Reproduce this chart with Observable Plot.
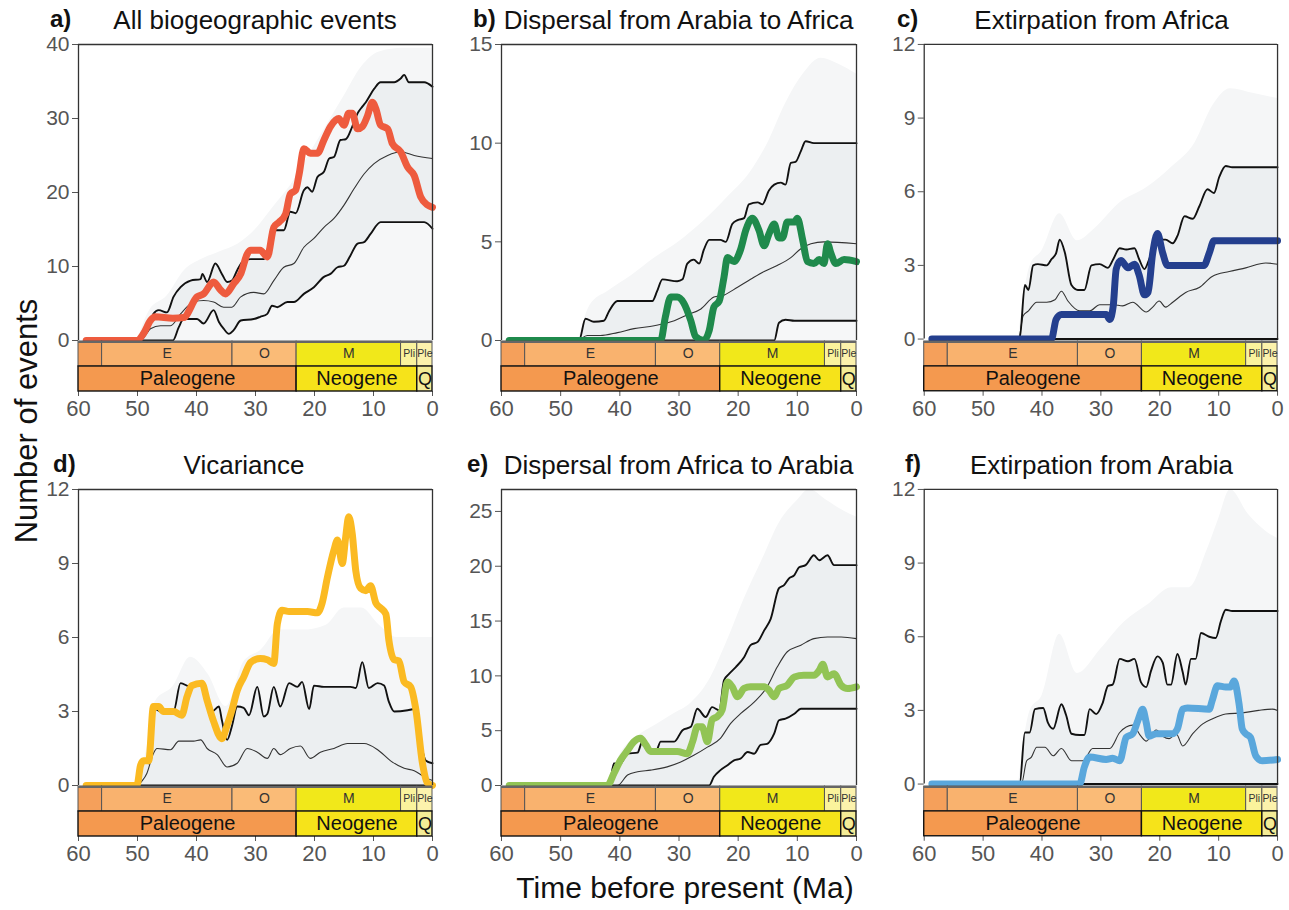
<!DOCTYPE html>
<html><head><meta charset="utf-8">
<script src="https://cdn.jsdelivr.net/npm/d3@7"></script>
<script src="https://cdn.jsdelivr.net/npm/@observablehq/plot@0.6"></script>
<style>
body{margin:0;background:#fff;font-family:"Liberation Sans",Arial,Helvetica,sans-serif;}
#page{position:relative;width:1289px;height:910px;overflow:hidden;background:#fff;}
.box{position:absolute;}
.title{position:absolute;font-size:26px;line-height:26px;color:#111;white-space:nowrap;transform:translateX(-50%);}
.letter{position:absolute;font-size:24px;line-height:26px;font-weight:bold;color:#111;}
.ylab{position:absolute;font-size:31px;color:#111;white-space:nowrap;transform:translate(-50%,-50%) rotate(-90deg);}
.xlab{position:absolute;font-size:30px;color:#111;white-space:nowrap;transform:translate(-50%,-50%);}
</style></head><body><div id="page"></div>
<script>
// ---------- Geological time scale ----------
const epochNames  = ["", "E", "O", "M", "Pli", "Ple"];
const epochBounds = [60, 56, 33.9, 23.03, 5.33, 2.58, 0];
const periodNames  = ["Paleogene", "Neogene", "Q"];
const periodBounds = [60, 23.03, 2.58, 0];
const xTicks = [60, 50, 40, 30, 20, 10, 0];

// ---------- a) All biogeographic events ----------  [time (Ma), events]
const aObs = [[58.7,0],[50.1,0],[49,0.9],[47.8,2.7],[47,3.2],[44,3],[42.2,3.1],[39.9,5.9],[38.8,6.3],[37.1,7.9],[35.9,6.8],[35.1,6.3],[33.7,7.7],[32.5,9.0],[31.4,11.7],[30.8,12.2],[29.2,12.2],[28,11.3],[26.9,15.3],[26,16],[24.9,17.1],[24.1,19.8],[23.2,20.3],[22.6,22.5],[21.8,25.9],[20.7,25.3],[19.5,25.3],[18.4,27.1],[17.3,28.9],[16.4,29.8],[15.9,30],[15,29.1],[14.2,30.7],[13.6,30.7],[12.7,28.6],[11.9,28.9],[11,30.4],[10.2,32.2],[9.6,31.3],[8.8,29.1],[7.6,28.6],[6.8,26.6],[5.4,25.5],[4.2,23.4],[3.1,22.3],[2,19.4],[0.85,18.3],[0,18]];
const aUpper = [[58.7,0],[50,0],[49.2,1.1],[48.4,1.1],[47.3,3.6],[46.4,4.1],[45,3.8],[43.9,5.9],[42.7,7.2],[41,8.1],[39.3,8.3],[39,9.0],[38.2,7.9],[36.8,10.4],[35.7,9.0],[34.8,7.9],[34,8.1],[33.1,9.5],[32,10.8],[30.8,11],[28.6,11],[27.5,13.5],[26.6,14.9],[25.2,14.9],[24.1,17.4],[23.2,17.2],[21.8,20.3],[21.2,20.7],[20.4,20.1],[19.5,22.1],[18.4,22.8],[17.5,24.6],[16.7,24.8],[15.6,27.1],[14.7,27.2],[13.6,28.9],[12.7,30.7],[11.9,31.6],[11.3,32.2],[9.9,34],[8.8,34.9],[6.5,34.9],[5.4,35.4],[4.8,35.9],[4,34.9],[1.4,34.9],[0,34.3]];
const aMedian = [[58.7,0],[49.5,0],[47.8,1.6],[46.1,2.0],[44.4,2.0],[42.7,3.6],[40.5,5.2],[38.8,5.4],[37.1,5.2],[35.4,4.5],[34,4.5],[32.5,5.9],[30.3,6.5],[28.6,6.3],[26.9,8.1],[25.2,9.9],[23.5,10.4],[21.8,12.6],[20.1,13.8],[18.4,15.3],[16.7,16.5],[15,18.3],[13.3,20.5],[11.6,22.5],[9.9,23.9],[7.6,25],[5.4,25.5],[3.1,25],[0,24.6]];
const aLower = [[58.7,0],[44,0],[43,1.8],[42.2,2.9],[39.9,2.9],[38.8,2.3],[37.1,4.1],[36.2,2.5],[35.4,1.6],[34.5,0.9],[33.7,1.4],[32.5,2.7],[30.3,2.9],[29.2,3.2],[28,3.6],[27.2,4.7],[26.3,4.5],[24.6,5.2],[23.5,5.2],[21.8,6.3],[20.1,7.2],[18.4,8.6],[17.3,9.0],[16.1,9.9],[15,10.1],[13.9,11.5],[12.7,13.1],[11.6,13.3],[10.5,14.4],[8.8,16],[1.4,16],[0,15.1]];
const aCloud = [[50,0,0],[48,0,4],[45,0,6],[42,0,9.5],[39,0,11],[36,0,12],[33,0.5,13],[30,1.5,15],[27,2.5,18],[24,3.5,21],[21,5,25],[18,6.5,29],[15,8,33],[12,10,37],[9,11,39],[5,11,39.5],[0,11,39.5]];

// ---------- b) Dispersal from Arabia to Africa ----------
const bObs = [[58.7,0],[33.1,0],[32.3,1.2],[31.4,2.2],[30.3,2.2],[29.2,1.9],[28,1.0],[27.2,0.2],[25.8,0],[24.9,0.5],[24.1,1.7],[23.2,2.0],[22.4,3.2],[21.8,4.2],[20.7,4.0],[19.6,4.6],[18.7,5.6],[17.6,6.2],[16.5,5.6],[15.6,4.8],[14.8,5.4],[13.9,5.9],[13.1,5.2],[12.5,5.2],[11.7,6.0],[10.5,6.0],[10,6.2],[9.1,5.1],[8.3,4.0],[7.2,3.9],[6.3,4.1],[5.5,3.9],[4.9,4.9],[4.3,4.4],[3.5,3.9],[2.1,4.1],[0,4.0]];
const bUpper = [[58.7,0],[46.9,0],[45.8,1.1],[44.4,0.95],[42.7,1.0],[41.8,1.5],[40.4,2.0],[34.5,2.0],[33.7,2.5],[32.8,3.1],[30.3,3.0],[29.4,3.1],[28.6,3.9],[27.5,4.1],[26.6,3.9],[25.8,4.6],[24.9,5.1],[23,5.1],[22.1,5.0],[21,5.9],[20.1,6.1],[19,6.2],[18.2,6.9],[16.7,7.0],[15.9,6.9],[14.8,7.6],[13.9,7.9],[12.8,8.0],[12,7.9],[11.1,9.0],[10.3,9.05],[9.4,9.6],[8.6,10.1],[7.2,10.0],[0,10.0]];
const bMedian = [[58.7,0],[47.2,0],[45.5,0.25],[43.3,0.25],[40.4,0.4],[37.6,0.6],[34.2,0.75],[30.8,1.0],[28.6,1.3],[26.3,1.6],[24.1,2.2],[22.4,2.3],[20.1,2.7],[17.9,3.1],[15.6,3.5],[13.4,3.8],[11.1,4.2],[9.4,4.65],[7.7,4.9],[5.5,5.0],[0,4.9]];
const bLower = [[58.7,0],[13.9,0],[13.1,0.9],[12,1.05],[10.5,1.0],[0,1.0]];
const bCloud = [[47,0,0],[45,0,1.8],[42,0,2.5],[38,0,3.3],[34,0,4.2],[30,0,5],[26,0,6],[22,0,7.2],[18,0,8.5],[15,0,10],[12,0.3,12],[9,0.5,13.5],[6,0.5,14.3],[3,0.5,14],[0,0.5,13.5]];

// ---------- c) Extirpation from Africa ----------
const cObs = [[58.7,0],[38.4,0],[37.6,0.8],[36.7,1.0],[29.1,1.0],[28.5,0.8],[27.9,1.35],[27.4,2.85],[26.6,3.2],[25.4,2.9],[24.3,3.05],[23.5,2.6],[22.6,1.8],[22,1.9],[21.2,3.5],[20.4,4.3],[19.5,3.5],[18.7,3.0],[12.5,3.0],[11.6,3.5],[10.8,4.0],[0,4.0]];
const cUpper = [[58.7,0],[43.8,0],[42.9,2.2],[42.3,2.0],[41.5,3.0],[40.7,3.05],[39.2,3.0],[38.4,3.25],[37.6,3.5],[37,4.05],[36.1,3.5],[35,2.2],[33.9,2.0],[32.8,2.0],[31.6,3.0],[30.2,3.05],[28.8,2.9],[27.9,3.25],[26.8,3.7],[25.7,3.65],[24.3,3.7],[23.5,3.25],[22.6,2.85],[21.8,3.25],[20.6,4.05],[19,4.05],[17.8,3.9],[17,4.2],[15.8,5.0],[14.4,4.9],[13.3,5.4],[11.9,6.1],[10.8,5.95],[9.9,6.6],[8.8,7.05],[7.7,7.0],[0,7.0]];
const cMedian = [[58.7,0],[44,0],[43.2,0.95],[42.3,1.15],[40.9,1.5],[39.2,1.5],[37.8,1.6],[36.7,1.95],[35.6,1.55],[33.6,1.15],[31.9,1.15],[30.2,1.4],[27.9,1.4],[26.3,1.35],[24.6,1.5],[22.3,1.1],[21.2,1.3],[20.1,1.55],[19,1.3],[17.8,1.5],[15.6,1.9],[13.3,2.1],[11.1,2.55],[8.2,2.75],[5.4,2.9],[2,3.1],[0,3.05]];
const cLower = [[58.7,0],[0,0]];
const cCloud = [[44,0,0],[42,0,3],[40,0,3.6],[37,0,5.1],[34,0,4],[31,0,4.5],[27,0,5.5],[22,0,6.2],[18,0,7],[14,0,8],[11,0,9.5],[8,0,10.2],[4,0,10],[0,0,9.8]];

// ---------- d) Vicariance ----------
const dObs = [[58.7,0],[50.1,0],[49.5,0.8],[49,1.0],[48.1,1.0],[47.3,3.2],[46.4,3.2],[45.6,3.0],[43.9,3.0],[42.5,2.85],[41.6,3.6],[40.8,4.05],[39.1,4.15],[38.2,3.45],[37.1,2.6],[35.7,1.9],[34.8,2.45],[34,3.05],[33.1,3.85],[32,4.4],[30.8,5.0],[29.2,5.15],[28,5.1],[26.9,4.95],[26.3,6.55],[25.5,7.1],[24.3,7.05],[21.2,7.05],[19.5,7.0],[18.7,7.4],[17.8,8.45],[16.7,9.55],[16.1,9.95],[15.3,9.0],[14.7,10.1],[14.2,10.9],[13.6,10.2],[13,8.7],[12.2,8.0],[11.3,7.9],[10.5,8.1],[9.6,7.4],[8.8,7.2],[7.9,6.95],[7.4,5.9],[6.5,5.1],[5.7,5.05],[4.8,4.2],[3.7,4.0],[2.8,3.05],[1.7,0.9],[0.85,0.1],[0,0]];
const dUpper = [[58.7,0],[49.8,0],[49,1.0],[48.1,0.9],[47,3.1],[46.1,3.0],[43.9,3.0],[42.7,4.15],[41,4.0],[38.8,4.15],[37.4,3.0],[36.2,3.2],[35.7,2.65],[34.8,1.85],[34,2.4],[33.1,3.2],[32,3.15],[31.1,2.85],[29.7,4.0],[28.6,2.8],[28,2.9],[26.9,4.0],[25.8,3.2],[24.3,4.15],[22.9,4.0],[22.1,4.2],[20.9,3.1],[20.1,4.05],[18.4,4.0],[13.9,4.0],[13,3.95],[11.9,5.0],[10.8,3.95],[9.3,4.15],[8.2,4.05],[7.4,3.4],[6.5,3.0],[4.2,3.05],[3.1,3.1],[2.3,2.1],[1.1,1.0],[0,0.9]];
const dMedian = [[58.7,0],[49.8,0],[49.5,0.1],[48.4,0.5],[47.3,1.3],[46.7,1.5],[44.4,1.45],[43,1.8],[40.5,1.8],[39.3,1.85],[38.2,1.5],[36.5,1.25],[34.8,0.75],[33.1,0.9],[31.4,1.5],[29.7,1.35],[28,1.1],[26.9,1.5],[25.8,1.25],[24.1,1.5],[22.4,1.6],[20.7,1.1],[19,1.35],[16.7,1.5],[14.4,1.7],[11.6,1.7],[9.3,1.45],[7.1,1.0],[4.8,0.7],[3.1,0.6],[1.4,0.35],[0,0.2]];
const dLower = [[58.7,0],[0,0]];
const dCloud = [[50,0,0],[48,0,2],[47,0,3.4],[44,0,4],[41,0,5.2],[38,0,4.5],[35,0,3.2],[32,0,5],[29,0,5.5],[26,0,6.3],[22,0,6.3],[18,0,6.5],[15,0,7.2],[12,0,7.2],[9,0,6.5],[6,0,6],[3,0,6],[0,0,6]];

// ---------- e) Dispersal from Africa to Arabia ----------
const eObs = [[58.7,0],[42.1,0],[41,1.1],[39.9,2.3],[38.7,3.2],[37.6,4.0],[36.5,4.3],[35.6,3.7],[34.8,3.1],[30.3,3.1],[28.6,2.9],[27.7,4.0],[26.9,5.35],[26.1,5.35],[25.2,4.0],[24.4,6.0],[23.5,6.3],[22.7,6.9],[21.8,9.45],[21,9.0],[20.1,8.1],[19,8.85],[17.9,9.0],[15.6,9.0],[14.8,8.7],[13.9,8.1],[13.1,8.85],[11.7,9.15],[10.5,9.9],[8.9,10.05],[7.2,10.05],[6.3,10.5],[5.7,11.05],[4.9,9.9],[3.8,10.2],[2.6,9.15],[1.5,8.85],[0,9.0]];
const eUpper = [[58.7,0],[41.8,0],[41,2.0],[39.9,2.0],[38.7,2.9],[37,3.0],[36.2,4.0],[35.4,3.2],[33.9,3.1],[33.1,4.0],[30.8,4.0],[29.4,5.05],[28,5.35],[26.9,7.0],[25.5,6.25],[24.4,7.15],[23.2,6.85],[22.4,9.6],[21.5,10.2],[20.4,10.8],[19,11.7],[17.9,12.8],[16.7,13.1],[15.6,14.15],[14.5,15.2],[13.1,18],[12.2,18.3],[11.4,18.9],[10.5,19.2],[9.7,19.9],[8.6,20.1],[7.2,21],[6.3,20.55],[4.9,21],[3.8,20.1],[0,20.1]];
const eMedian = [[58.7,0],[40.4,0],[38.7,0.95],[37,1.25],[34.8,1.4],[32,1.7],[29.7,2.15],[27.5,2.75],[25.2,3.5],[23,4.3],[21.3,5.65],[19.6,6.55],[17.3,7.6],[15.1,9.0],[13.4,10.8],[11.7,12.2],[9.4,12.8],[7.2,13.4],[4.9,13.55],[2.6,13.55],[0,13.4]];
const eLower = [[58.7,0],[24.9,0],[24.1,0.8],[23,1.4],[21.8,1.85],[20.7,2.3],[19.6,2.45],[18.4,3.05],[17.3,2.9],[16.2,3.7],[15.1,3.8],[13.9,4.75],[13.1,5.95],[12,6.1],[10.5,6.55],[9.4,7.0],[0,7.0]];
const eCloud = [[42,0,0],[40,0,2.8],[37,0,4.5],[34,0,5.5],[31,0,6.5],[28,0,7.5],[25,0,9.5],[22,0.5,13],[19,1.5,17],[16,2.5,20.5],[13,4,24],[10,5,26],[8,5.5,27],[5,5.5,26],[2,5.5,25],[0,5.5,24.5]];

// ---------- f) Extirpation from Arabia ----------
const fObs = [[58.7,0],[33.6,0],[32.8,0.7],[31.9,1.1],[29.1,1.0],[28,1.05],[26.8,0.95],[25.7,1.9],[24.6,2.05],[23.7,2.6],[22.9,3.05],[22.3,2.5],[21.8,1.95],[20.6,2.05],[17.8,2.05],[17,2.25],[16.1,3.05],[15.3,3.1],[11.6,3.05],[11.1,3.4],[10.2,4.0],[8.8,3.95],[8,3.95],[7.4,4.2],[6.5,3.2],[6,2.25],[5.4,2.05],[4.6,1.9],[3.7,1.15],[2.6,0.95],[0,1.0]];
const fUpper = [[58.7,0],[43.8,0],[42.9,2.1],[42.1,2.1],[41.2,3.05],[39.8,3.1],[39,2.5],[38.1,2.25],[36.7,3.25],[35.9,2.8],[35,2.05],[33.6,2.0],[32.8,2.0],[31.9,3.05],[30.8,2.85],[29.7,3.3],[28.8,4.0],[28,4.05],[26.8,5.1],[25.4,5.0],[24.3,5.1],[23.2,4.15],[22.3,3.95],[21.5,4.6],[20.4,5.2],[19.5,4.95],[18.7,4.05],[18.1,4.05],[17,5.3],[16.1,4.55],[15.6,4.05],[14.7,5.1],[13.9,5.1],[13,6.15],[11.6,6.0],[10.5,5.95],[9.6,6.65],[8.8,7.1],[7.7,7.05],[0,7.05]];
const fMedian = [[58.7,0],[43.5,0],[42.6,0.95],[41.8,1.1],[40.9,1.5],[39.5,1.5],[38.1,1.15],[36.7,1.45],[35,0.95],[33,0.95],[31.4,1.45],[28.5,1.45],[26.8,2.1],[24.6,2.4],[23.2,1.95],[22.3,1.75],[20.6,2.2],[19.5,1.95],[18.4,1.85],[17.2,2.05],[16.1,1.55],[14.4,2.05],[12.7,2.45],[11.1,2.65],[8.8,2.85],[6,2.9],[3.2,3.0],[0.9,3.05],[0,3.0]];
const fLower = [[58.7,0],[0,0]];
const fCloud = [[44,0,0],[42,0,3],[40,0,3.6],[37,0,6.1],[34,0,4.5],[30,0,5.5],[26,0,6.6],[22,0,7.3],[18,0,8],[15,0,8],[12,0,9.5],[10,0,10.8],[8,0,12],[5,0,11],[2,0,10.3],[0,0,10]];

// ---------- panel table ----------
const panelLetters = ["a)","b)","c)","d)","e)","f)"];
const panelTitles = ["All biogeographic events","Dispersal from Arabia to Africa","Extirpation from Africa","Vicariance","Dispersal from Africa to Arabia","Extirpation from Arabia"];
const panelYMax = [40, 15, 12, 12, 27, 12];
const panelYTicks = [[0,10,20,30,40],[0,5,10,15],[0,3,6,9,12],[0,3,6,9,12],[0,5,10,15,20,25],[0,3,6,9,12]];
const panelColors = ["#EE5B3E","#1F8A4C","#243F8E","#FBBA22","#92C455","#5AA7DC"];
const obsSeries = [aObs,bObs,cObs,dObs,eObs,fObs];
const upperSeries = [aUpper,bUpper,cUpper,dUpper,eUpper,fUpper];
const medianSeries = [aMedian,bMedian,cMedian,dMedian,eMedian,fMedian];
const lowerSeries = [aLower,bLower,cLower,dLower,eLower,fLower];
const cloudSeries = [aCloud,bCloud,cCloud,dCloud,eCloud,fCloud];

const epochColors = ["#F5A05B","#F9B26E","#FABB77","#F1E81A","#FAF39C","#FCF2AC"];
const periodColors = ["#F4994F","#F6E31A","#F4EC96"];

// ---------- layout ----------
const colLeft = [78, 501, 924], colRight = [432, 856, 1279];
const rowTop = [44, 489], rowZero = [340, 785];
const tsH = 51, mL = 60, mR = 12, mT = 12, mB = 38, mBmain = 14;
const FONT = '"Liberation Sans", Arial, Helvetica, sans-serif';

const epochs = epochNames.map((n, i) => ({name: n, start: epochBounds[i], end: epochBounds[i+1], color: epochColors[i], row: "epoch"}));
const periods = periodNames.map((n, i) => ({name: n, start: periodBounds[i], end: periodBounds[i+1], color: periodColors[i], row: "period"}));

const page = document.getElementById("page");
const T = d => d[0], V = d => d[1];

for (let i = 0; i < 6; i++) {
  const c = i % 3, r = Math.floor(i / 3);
  const L = colLeft[c], R = colRight[c], top = rowTop[r], Z = rowZero[r];
  const W = mL + (R - L) + mR;
  const curve = "monotone-x";

  const main = Plot.plot({
    width: W, height: mT + (Z - top) + mBmain,
    marginLeft: mL, marginRight: mR, marginTop: mT, marginBottom: mBmain,
    x: {domain: [60, 0], axis: null},
    y: {domain: [0, panelYMax[i]], ticks: panelYTicks[i], tickSize: 6, tickPadding: 3, label: null},
    style: {fontSize: "21px", color: "#555", fontFamily: FONT, background: "transparent"},
    marks: [
      Plot.areaY(cloudSeries[i], {x: T, y1: d => d[1], y2: d => d[2], fill: "#f5f6f7", curve}),
      Plot.areaY(upperSeries[i], {x: T, y1: 0, y2: V, fill: "#eceff1", curve}),
      Plot.areaY(lowerSeries[i], {x: T, y1: 0, y2: V, fill: "#ffffff", fillOpacity: 0.5, curve}),
      Plot.line(medianSeries[i], {x: T, y: V, stroke: "#333", strokeWidth: 1.1, curve}),
      Plot.line(lowerSeries[i], {x: T, y: V, stroke: "#111", strokeWidth: 1.9, curve}),
      Plot.line(upperSeries[i], {x: T, y: V, stroke: "#111", strokeWidth: 1.9, curve}),
      Plot.line(obsSeries[i], {x: T, y: V, stroke: panelColors[i], strokeWidth: 7, strokeLinecap: "round", strokeLinejoin: "round", curve}),
      Plot.ruleY([panelYMax[i]], {stroke: "#333", strokeWidth: 1.3}),
      Plot.ruleX([60, 0], {stroke: "#333", strokeWidth: 1.3})
    ]
  });

  const ts = Plot.plot({
    width: W, height: tsH + mB,
    marginLeft: mL, marginRight: mR, marginTop: 0, marginBottom: mB,
    x: {domain: [60, 0], ticks: xTicks, tickSize: 5, tickPadding: 4, label: null},
    y: {domain: ["epoch", "period"], axis: null, padding: 0},
    color: {type: "identity"},
    style: {fontSize: "22px", color: "#555", fontFamily: FONT, background: "transparent"},
    marks: [
      Plot.barX(epochs, {x1: "start", x2: "end", y: "row", fill: "color", stroke: "#555", strokeWidth: 1}),
      Plot.barX(periods, {x1: "start", x2: "end", y: "row", fill: "color", stroke: "#111", strokeWidth: 1.4}),
      Plot.ruleY(["epoch"], {stroke: "#666", strokeWidth: 2, dy: -12}),
      Plot.text(epochs.filter(d => d.name.length === 1), {x: d => (d.start + d.end) / 2, y: "row", text: "name", fontSize: 14, fill: "#333"}),
      Plot.text(epochs.filter(d => d.name.length > 1), {x: d => (d.start + d.end) / 2, y: "row", text: "name", fontSize: 10.5, fill: "#333"}),
      Plot.text(periods.filter(d => d.name.length > 1), {x: d => (d.start + d.end) / 2, y: "row", text: "name", fontSize: 20, fill: "#111"}),
      Plot.text(periods.filter(d => d.name.length === 1), {x: d => (d.start + d.end) / 2, y: "row", text: "name", fontSize: 18, fill: "#111"})
    ]
  });

  const m = document.createElement("div");
  m.className = "box"; m.style.left = (L - mL) + "px"; m.style.top = (top - mT) + "px"; m.style.zIndex = 1;
  m.appendChild(main); page.appendChild(m);

  const t = document.createElement("div");
  t.className = "box"; t.style.left = (L - mL) + "px"; t.style.top = Z + "px"; t.style.zIndex = 2;
  t.appendChild(ts); page.appendChild(t);

  const titleY = r === 0 ? 7 : 452;
  const ttl = document.createElement("div");
  ttl.className = "title"; ttl.textContent = panelTitles[i];
  ttl.style.left = ((L + R) / 2 + (i === 3 ? -11 : 0)) + "px"; ttl.style.top = titleY + "px";
  page.appendChild(ttl);

  const letterX = [50, 473, 897, 53, 467, 905][i];
  const lt = document.createElement("div");
  lt.className = "letter"; lt.textContent = panelLetters[i];
  lt.style.left = letterX + "px"; lt.style.top = (titleY - 1) + "px";
  page.appendChild(lt);
}

const yl = document.createElement("div");
yl.className = "ylab"; yl.textContent = "Number of events";
yl.style.left = "27px"; yl.style.top = "421px"; page.appendChild(yl);

const xl = document.createElement("div");
xl.className = "xlab"; xl.textContent = "Time before present (Ma)";
xl.style.left = "685px"; xl.style.top = "888px"; page.appendChild(xl);
</script>
</body></html>
